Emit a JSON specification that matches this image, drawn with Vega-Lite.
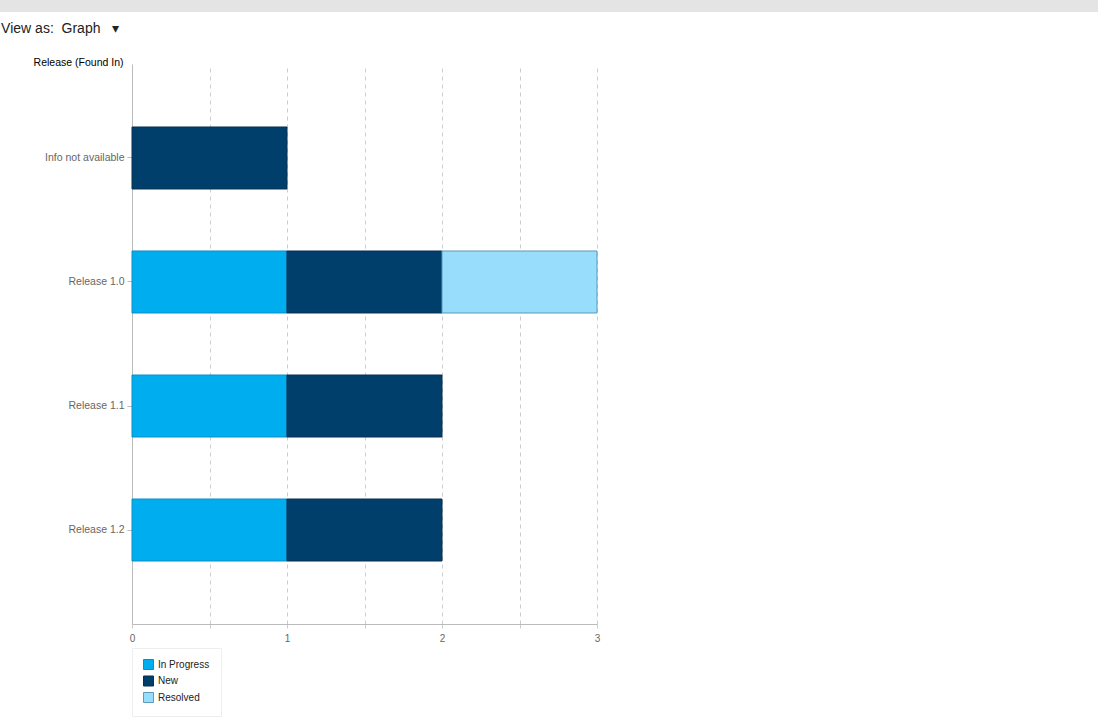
{
  "$schema": "https://vega.github.io/schema/vega-lite/v6.json",
  "padding": 0,
  "background": "white",
  "spacing": 10,
  "config": {"font": "Liberation Sans", "view": {"stroke": null}},
  "vconcat": [
    {
      "width": 1098,
      "height": 12,
      "view": {"fill": "#e4e4e4", "stroke": null},
      "data": {"values": []},
      "mark": "text"
    },
    {
      "spacing": 0,
      "resolve": {
        "scale": {"color": "independent", "stroke": "independent"},
        "legend": {"color": "independent", "stroke": "independent"}
      },
      "hconcat": [
        {
          "width": 1,
          "height": 1,
          "data": {"values": []},
          "mark": "text"
        },
        {
          "width": 465,
          "height": 560,
          "title": {
            "text": "\u00a0View as:\u00a0\u00a0Graph\u00a0\u00a0\u00a0\u25be",
            "anchor": "start",
            "fontSize": 14,
            "fontWeight": "normal",
            "color": "#222",
            "dx": -32,
            "offset": 21
          },
          "data": {
            "values": [
              {"release": "Info not available", "status": "New", "count": 1},
              {"release": "Release 1.0", "status": "In Progress", "count": 1},
              {"release": "Release 1.0", "status": "New", "count": 1},
              {"release": "Release 1.0", "status": "Resolved", "count": 1},
              {"release": "Release 1.1", "status": "In Progress", "count": 1},
              {"release": "Release 1.1", "status": "New", "count": 1},
              {"release": "Release 1.2", "status": "In Progress", "count": 1},
              {"release": "Release 1.2", "status": "New", "count": 1}
            ]
          },
          "mark": {"type": "bar", "strokeWidth": 1},
          "encoding": {
            "y": {
              "field": "release",
              "type": "nominal",
              "sort": ["Info not available", "Release 1.0", "Release 1.1", "Release 1.2"],
              "scale": {"paddingInner": 0.5, "paddingOuter": 0.508},
              "axis": {
                "title": "Release (Found In)",
                "titleAngle": 0,
                "titleAlign": "right",
                "titleBaseline": "alphabetic",
                "titleX": -9,
                "titleY": 1,
                "titleFontSize": 10.5,
                "titleFontWeight": "normal",
                "titleColor": "#000",
                "labelFontSize": 10.5,
                "labelColor": "#666",
                "labelPadding": 3,
                "tickSize": 5,
                "tickColor": "#bbb",
                "domainColor": "#bbb",
                "grid": false
              }
            },
            "x": {
              "field": "count",
              "type": "quantitative",
              "stack": "zero",
              "scale": {"domain": [0, 3], "nice": false},
              "axis": {
                "title": null,
                "values": [0, 0.5, 1, 1.5, 2, 2.5, 3],
                "labelExpr": "datum.value % 1 === 0 ? format(datum.value, 'd') : ''",
                "labelOverlap": false,
                "labelFlush": false,
                "grid": true,
                "gridDash": [4, 4],
                "gridColor": "#ccc",
                "domainColor": "#bbb",
                "tickColor": "#ccc",
                "tickSize": 4,
                "labelFontSize": 10,
                "labelColor": "#666",
                "labelPadding": 5
              }
            },
            "color": {
              "field": "status",
              "type": "nominal",
              "scale": {"domain": ["In Progress", "New", "Resolved"], "range": ["#00AEEF", "#003F6B", "#99DDFD"]},
              "legend": {
                "title": null,
                "orient": "bottom",
                "direction": "vertical",
                "symbolType": "square",
                "symbolSize": 100,
                "symbolOpacity": 1,
                "symbolStrokeWidth": 1,
                "symbolStrokeColor": "#4a7a99",
                "labelFontSize": 10,
                "labelColor": "#222",
                "labelOffset": 4,
                "padding": 11,
                "rowPadding": 1.5,
                "strokeColor": "#eee",
                "offset": 5
              }
            },
            "stroke": {
              "field": "status",
              "type": "nominal",
              "scale": {"domain": ["In Progress", "New", "Resolved"], "range": ["#0a8fc4", "#0a2f50", "#5b9ab8"]},
              "legend": null
            },
            "order": {"field": "status"}
          }
        }
      ]
    }
  ]
}
